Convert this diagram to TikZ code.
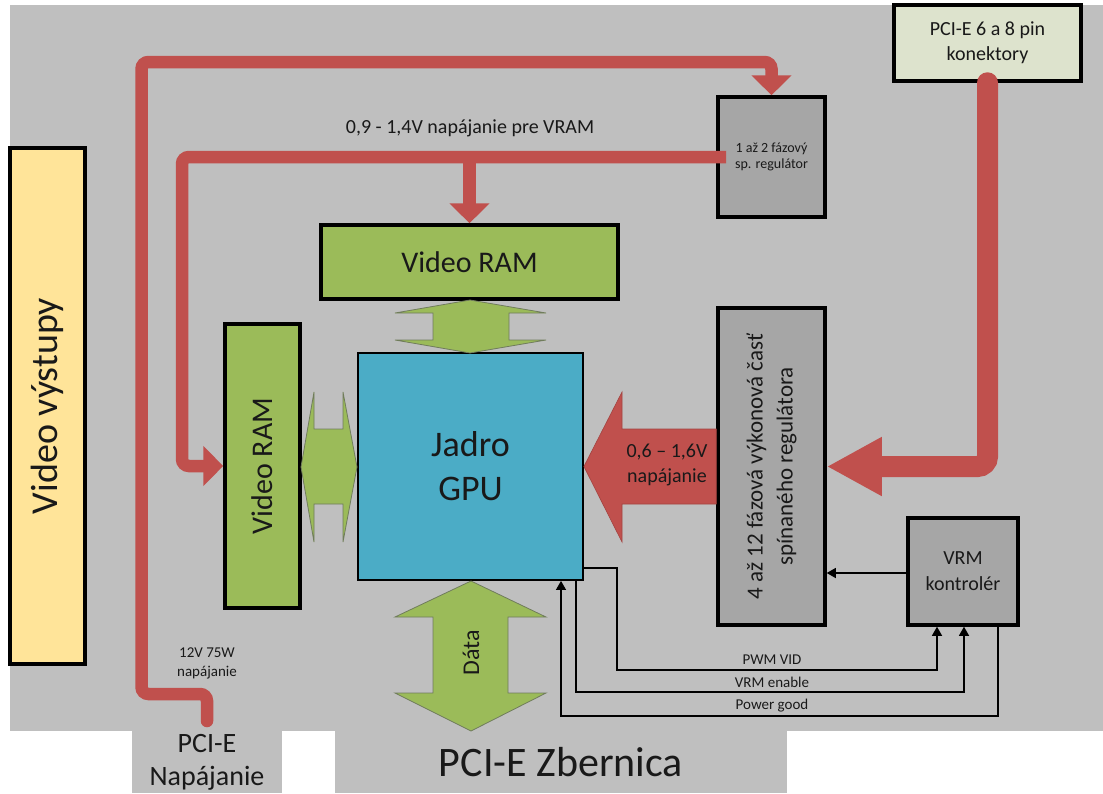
\documentclass[tikz,border=0pt]{standalone}
\usepackage{fontspec}
\setmainfont{Carlito}
\usetikzlibrary{arrows.meta}
\definecolor{bgc}{RGB}{191,191,191}
\definecolor{redc}{RGB}{192,80,77}
\definecolor{greenc}{RGB}{155,187,89}
\definecolor{greenedge}{RGB}{112,124,92}
\definecolor{bluec}{RGB}{75,172,198}
\definecolor{greyc}{RGB}{166,166,166}
\definecolor{yellowc}{RGB}{255,228,153}
\definecolor{beigec}{RGB}{221,227,205}
\definecolor{txt}{RGB}{25,25,25}
\newcommand{\fsz}[2]{\fontsize{#1}{#2}\selectfont}
\begin{document}
\begin{tikzpicture}[x=1pt,y=-1pt,
  box/.style={draw=black, line width=3.5pt, inner sep=0pt, align=center, text=txt},
  redline/.style={draw=redc, line width=12.5pt, rounded corners=7pt},
  redhead/.style={-{Triangle[length=20pt,width=39pt]}},
  greenarrow/.style={fill=greenc, draw=greenedge, line width=0.8pt},
  sig/.style={draw=black, line width=1.2pt},
  sighead/.style={-{Triangle[length=9pt,width=10pt]}},
  lbl/.style={text=txt, inner sep=0pt, align=center}]
\useasboundingbox (0,0) rectangle (1103,793);
% background
\fill[bgc] (10,5) rectangle (1103,731);
\node[fill=bgc, minimum width=150pt, minimum height=62pt, inner sep=0pt, text=txt, align=center, font=\fsz{28}{33}] (pcinap) at (207,762) {PCI-E\\Napájanie};
\node[fill=bgc, minimum width=452pt, minimum height=62pt, inner sep=0pt, text=txt, font=\fsz{42}{48}] (pcibus) at (561,762) {PCI-E Zbernica};

% boxes
\node[box, fill=yellowc, rotate=90, minimum width=516pt, minimum height=75pt, font=\fsz{38}{44}] (vout) at (47.5,406) {Video výstupy};
\node[box, fill=beigec, minimum width=187pt, minimum height=76pt, font=\fsz{20}{25}] (pcicon) at (987.5,43) {PCI-E 6 a 8 pin\\konektory};
\node[box, fill=greyc, minimum width=107pt, minimum height=120pt, font=\fsz{14}{16}] (reg12) at (771.5,157) {1 až 2 fázový\\sp. regulátor};
\node[box, fill=greenc, minimum width=297pt, minimum height=74pt, font=\fsz{30}{36}] (vramT) at (469.5,262) {Video RAM};
\node[box, fill=greenc, rotate=90, minimum width=284pt, minimum height=75pt, font=\fsz{30}{36}] (vramL) at (262.5,466) {Video RAM};
\node[draw=black, line width=1.8pt, fill=bluec, inner sep=0pt, align=center, text=txt, minimum width=225pt, minimum height=227pt, font=\fsz{36}{44}] (gpu) at (470.5,466.5) {Jadro\\GPU};
\node[box, fill=greyc, rotate=90, minimum width=317pt, minimum height=107pt, font=\fsz{23}{30}] (p4) at (771.5,466.5) {4 až 12 fázová výkonová časť\\spínaného regulátora};
\node[box, fill=greyc, minimum width=110pt, minimum height=107pt, font=\fsz{20}{26}] (vrm) at (963,571.5) {VRM\\kontrolér};

% green double arrows
\filldraw[greenarrow] (470,300) -- (546,313) -- (509,313) -- (509,340) -- (546,340) -- (470,353)
  -- (395,340) -- (433,340) -- (433,313) -- (395,313) -- cycle;
\filldraw[greenarrow] (301,467) -- (314,392) -- (314,429) -- (343,429) -- (343,392) -- (357,467)
  -- (343,542) -- (343,504) -- (314,504) -- (314,542) -- cycle;
\filldraw[greenarrow] (471,581) -- (546,617) -- (508,617) -- (508,693) -- (546,693) -- (471,731)
  -- (395,693) -- (433,693) -- (433,617) -- (395,617) -- cycle;
\node[lbl, rotate=90, font=\fsz{24}{28}] (data) at (471,653) {Dáta};

% big red arrow to GPU
\filldraw[fill=redc, draw=redc!85!black, line width=0.6pt] (p4.north |- 0,429) -- (622,429) -- (622,392) -- (gpu.east)
  -- (622,542) -- (622,504) -- (p4.north |- 0,504) -- cycle;
\node[lbl, font=\fsz{20}{25}] (vcore) at (667,465) {0,6 – 1,6V\\napájanie};

% red power lines
\coordinate (napstart) at (207,721);
\draw[redline, redhead, line cap=round] (napstart) -- (207,694) -- (141.5,694) -- (141.5,62) -- (reg12.north |- 0,62) -- (reg12.north);
\node[lbl, font=\fsz{15}{19}] (v12) at (207,663) {12V 75W\\napájanie};

\coordinate (vramsrc) at (726,157);
\draw[redline, redhead] (vramsrc) -- (182,157) -- (182,466) -- (vramL.north);
\draw[redline, redhead] (vramT.north |- 0,157) -- (vramT.north);
\node[lbl, font=\fsz{20}{24}] (vramlbl) at (470,128) {0,9 - 1,4V napájanie pre VRAM};

\draw[draw=redc, line width=21pt, rounded corners=10pt, line cap=round, -{Triangle[length=55pt,width=55pt]}]
  (pcicon.south) -- (pcicon.south |- p4.south) -- (p4.south);

% signal lines
\draw[sig, sighead] (vrm.west |- 0,573) -- (p4.south |- 0,573);
\draw[sig, sighead] (gpu.east |- 0,568) -- (617,568) -- (617,670) -- (937,670) -- (937,0 |- vrm.south);
\draw[sig, sighead] (576,0 |- gpu.south) -- (576,692) -- (964,692) -- (964,0 |- vrm.south);
\draw[sig, sighead] (998,0 |- vrm.south) -- (998,716) -- (561,716) -- (561,0 |- gpu.south);
\node[lbl, font=\fsz{15}{18}, anchor=base] (pwm) at (772,664) {PWM VID};
\node[lbl, font=\fsz{15}{18}, anchor=base] (ena) at (772,687) {VRM enable};
\node[lbl, font=\fsz{15}{18}, anchor=base] (pgood) at (772,709) {Power good};
\end{tikzpicture}
\end{document}
